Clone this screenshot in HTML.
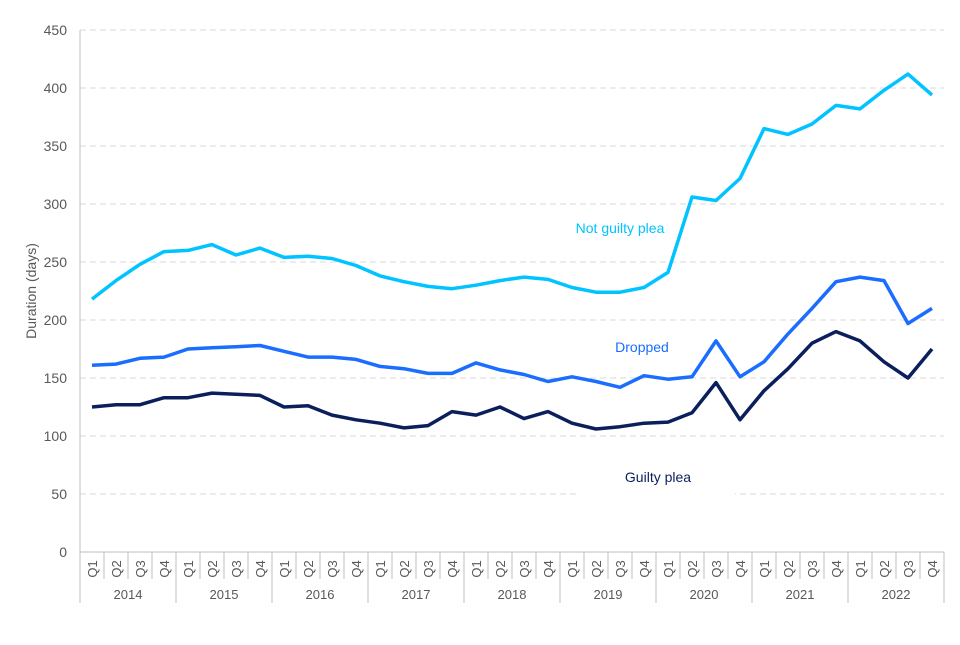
<!DOCTYPE html>
<html><head><meta charset="utf-8"><style>
body{margin:0;background:#fff;}
svg text{font-family:"Liberation Sans",Arial,sans-serif;}
</style></head><body>
<svg id="chart" width="960" height="640" xmlns="http://www.w3.org/2000/svg">
<g id="grid"></g><g id="axes"></g><g id="series"></g><g id="labels"></g>
</svg>
<script>
const years=["2014","2015","2016","2017","2018","2019","2020","2021","2022"];
const quarters=["Q1","Q2","Q3","Q4"];
const yTicks=[0,50,100,150,200,250,300,350,400,450];
const notGuilty=[218,234,248,259,260,265,256,262,254,255,253,247,238,233,229,227,230,234,237,235,228,224,224,228,241,306,303,322,365,360,369,385,382,398,412,394];
const dropped=[161,162,167,168,175,176,177,178,173,168,168,166,160,158,154,154,163,157,153,147,151,147,142,152,149,151,182,151,164,188,210,233,237,234,197,210];
const guilty=[125,127,127,133,133,137,136,135,125,126,118,114,111,107,109,121,118,125,115,121,111,106,108,111,112,120,146,114,139,158,180,190,182,164,150,175];

const NS="http://www.w3.org/2000/svg";
const x0=80,step=24,yBase=552,yTop=30,yMax=450;
function xPos(i){return x0+step*i+step/2;}
function yPos(v){return yBase-(v/yMax)*(yBase-yTop);}
function mk(tag,attrs,parent,txt){const e=document.createElementNS(NS,tag);for(const k in attrs)e.setAttribute(k,attrs[k]);if(txt!==undefined)e.textContent=txt;parent.appendChild(e);return e;}
const grid=document.getElementById('grid'),axes=document.getElementById('axes'),ser=document.getElementById('series'),lab=document.getElementById('labels');
const n=years.length*4;
yTicks.forEach(v=>{
  if(v>0){const l=mk('line',{x1:x0,x2:x0+step*n,y1:yPos(v),y2:yPos(v),stroke:'#d9d9d9','stroke-dasharray':'6,4'},grid);
  
  }
  const t=mk('text',{x:67,y:yPos(v)+5,'text-anchor':'end','font-size':14,fill:'#595959'},axes,String(v));
  
  
});
const yl=mk('line',{x1:x0,x2:x0,y1:yTop,y2:yBase,stroke:'#bfbfbf'},axes);


const xl=mk('line',{x1:x0,x2:x0+step*n,y1:yBase,y2:yBase,stroke:'#bfbfbf'},axes);


const yt=mk('text',{x:36,y:291,'text-anchor':'middle','font-size':14,fill:'#595959',transform:'rotate(-90 36 291)'},axes,'Duration (days)');


for(let i=0;i<=n;i++){
  const x=x0+step*i;
  const l=mk('line',{x1:x,x2:x,y1:yBase,y2:(i%4===0)?603:579,stroke:'#bfbfbf'},axes);
  
  
}
for(let i=0;i<n;i++){
  const x=xPos(i);
  const t=mk('text',{x:x+5,y:569,'text-anchor':'middle','font-size':13,fill:'#595959',transform:'rotate(-90 '+(x+5)+' 569)'},axes,quarters[i%4]);
  
  
}
years.forEach((y,j)=>{
  const t=mk('text',{x:x0+step*(4*j+2),y:599,'text-anchor':'middle','font-size':13,fill:'#595959'},axes,y);
  
  
});
const bg=mk('rect',{x:580,y:460,width:155,height:35,fill:'#fff'},grid);


function line(data,color,name){
  const d=data.map((v,i)=>(i?'L':'M')+xPos(i).toFixed(1)+','+yPos(v).toFixed(1)).join(' ');
  const p=mk('path',{d:d,fill:'none',stroke:color,'stroke-width':3.5,'stroke-linejoin':'round'},ser);
  
  
}
line(notGuilty,'#00c3ff','not-guilty-plea-line');
line(dropped,'#1a6dff','dropped-line');
line(guilty,'#0b1f5c','guilty-plea-line');
const l1=mk('text',{x:620,y:233,'text-anchor':'middle','font-size':14,fill:'#00c3ff'},lab,'Not guilty plea');


const l2=mk('text',{x:642,y:352,'text-anchor':'middle','font-size':14,fill:'#1a6dff'},lab,'Dropped');


const l3=mk('text',{x:658,y:482,'text-anchor':'middle','font-size':14,fill:'#0b1f5c'},lab,'Guilty plea');


</script>
</body></html>
